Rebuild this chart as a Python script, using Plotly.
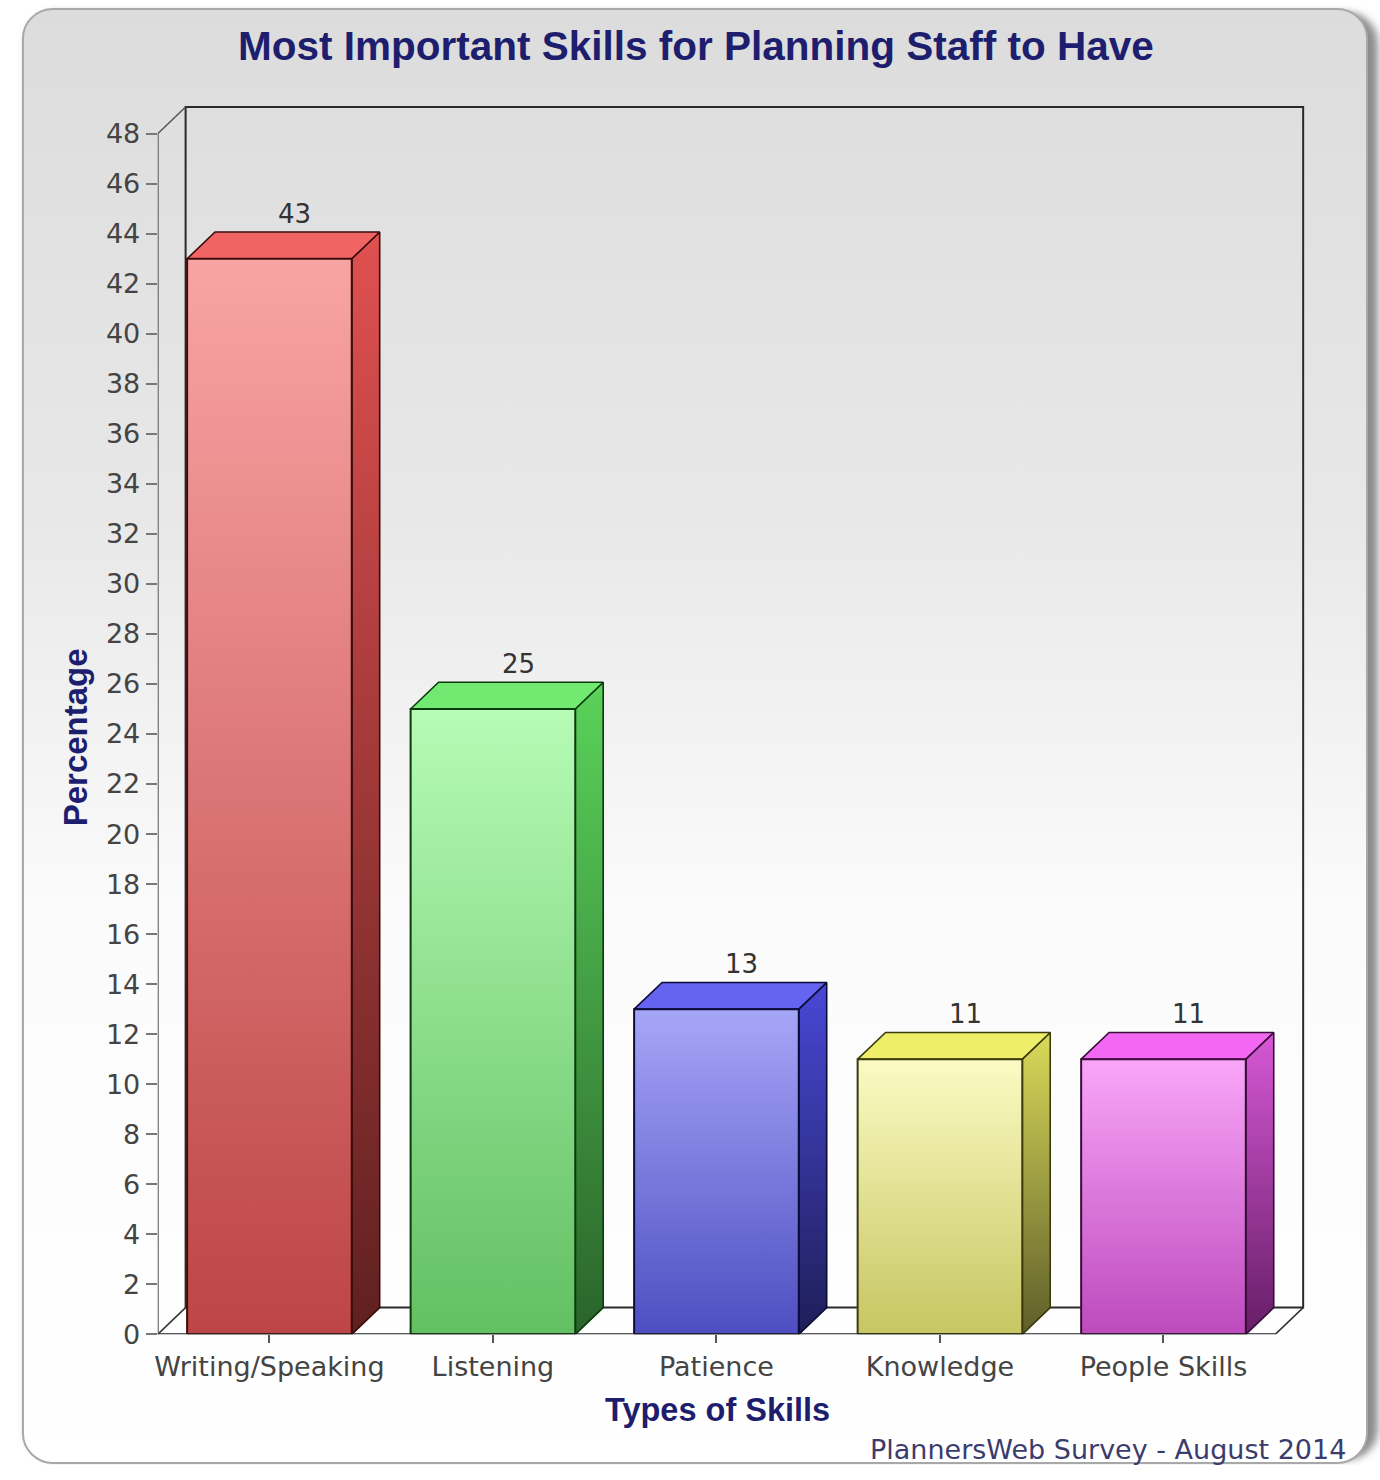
import base64
import plotly.graph_objects as go

# ---------------- data ----------------
categories = ["Writing/Speaking", "Listening", "Patience", "Knowledge", "People Skills"]
values = [43, 25, 13, 11, 11]
y_ticks = list(range(0, 49, 2))

front_top = ["#f9a4a4", "#b6fbb6", "#a6a6f8", "#fbfbc4", "#f9a6f9"]
front_bot = ["#bd4545", "#62c062", "#4e4ec2", "#c6c662", "#bd4abd"]
side_top = ["#e05050", "#5ad25a", "#4848d6", "#dada5a", "#d658d6"]
side_bot = ["#602020", "#2a642a", "#1e1e58", "#5e5e2a", "#661e66"]
top_face = ["#f06464", "#72ea72", "#6464f0", "#eeee68", "#f268f2"]
edge_col = ["#3a0c0c", "#0c3a0c", "#0c0c3a", "#3a3a0c", "#3a0c3a"]

# ---------------- geometry ----------------
W, H = 1380, 1480
PX_CAT = 224.0          # pixels per category
PX_UNIT = 25.27         # pixels per percentage point
X0_PX, Y0_PX = 155.0, 1348.0
XR = [-0.5, 4.7]
YR = [0, 50]
DX = 28 / PX_CAT        # depth offset (categories)
DY = 27 / PX_UNIT       # depth offset (value units)
HW = 82.5 / PX_CAT      # half bar width
YMAX = 48

xd = [X0_PX / W, (X0_PX + (XR[1] - XR[0]) * PX_CAT) / W]
yd = [(H - Y0_PX) / H, (H - (Y0_PX - (YR[1] - YR[0]) * PX_UNIT)) / H]

fig = go.Figure()

def face(xs, ys, grad, edge, width=1.6):
    kw = dict(x=xs + [xs[0]], y=ys + [ys[0]], mode="lines", fill="toself",
              line=dict(color=edge, width=width), hoverinfo="skip", showlegend=False)
    if isinstance(grad, tuple):
        kw["fillgradient"] = dict(type="vertical", colorscale=[[0, grad[0]], [1, grad[1]]])
    else:
        kw["fillcolor"] = grad
    fig.add_trace(go.Scatter(**kw))

for i, v in enumerate(values):
    l, r = i - HW, i + HW
    face([r, r + DX, r + DX, r], [0, DY, v + DY, v], (side_bot[i], side_top[i]), edge_col[i])
    face([l, r, r + DX, l + DX], [v, v, v + DY, v + DY], top_face[i], edge_col[i])
    face([l, r, r, l], [0, 0, v, v], (front_bot[i], front_top[i]), edge_col[i], 2)

# ---------------- 3D box frame ----------------
xl, xr = XR[0], len(categories) - 0.5
shapes = [
    dict(type="path", path=f"M {xl+DX},{DY} L {xl+DX},{YMAX+DY} L {xr+DX},{YMAX+DY} L {xr+DX},{DY} Z",
         line=dict(color="#2a2a2a", width=2), layer="below"),
    dict(type="line", x0=xl, y0=YMAX, x1=xl + DX, y1=YMAX + DY, line=dict(color="#555", width=1.5), layer="below"),
    dict(type="line", x0=xl, y0=0, x1=xl + DX, y1=DY, line=dict(color="#333", width=1.5), layer="below"),
    dict(type="line", x0=xr, y0=0, x1=xr + DX, y1=DY, line=dict(color="#333", width=1.5), layer="below"),
    dict(type="line", x0=xl, y0=0, x1=xl, y1=YMAX, line=dict(color="#777", width=2.5), layer="below"),
    dict(type="line", x0=xl, y0=0, x1=xr, y1=0, line=dict(color="#222", width=2), layer="above"),
]

# ---------------- value labels & texts ----------------
annotations = []
for i, v in enumerate(values):
    annotations.append(dict(x=i + DX * 0.9, y=v + DY, text=str(v), showarrow=False,
                            yanchor="bottom", yshift=1,
                            font=dict(family="DejaVu Sans", size=26, color="#333333")))

navy = "#1e1e6e"
annotations += [
    dict(xref="paper", yref="paper", x=695 / W, y=1 - 46 / H, text="<b>Most Important Skills for Planning Staff to Have</b>",
         showarrow=False, xanchor="center", yanchor="middle",
         font=dict(family="Liberation Sans", size=40.5, color=navy)),
    dict(xref="paper", yref="paper", x=73 / W, y=1 - 745 / H, text="<b>Percentage</b>", textangle=-90,
         showarrow=False, xanchor="center", yanchor="middle",
         font=dict(family="Liberation Sans", size=33, color=navy)),
    dict(xref="paper", yref="paper", x=716 / W, y=1 - 1424 / H, text="<b>Types of Skills</b>",
         showarrow=False, xanchor="center", yanchor="middle",
         font=dict(family="Liberation Sans", size=32.5, color=navy)),
    dict(xref="paper", yref="paper", x=1348 / W, y=1 - 1464 / H, text="PlannersWeb Survey - August 2014",
         showarrow=False, xanchor="right", yanchor="middle",
         font=dict(family="DejaVu Sans", size=27, color="#3c3c6c")),
]

# ---------------- background panel (gradient rounded frame) ----------------
svg = f"""<svg xmlns='http://www.w3.org/2000/svg' width='{W}' height='{H}' viewBox='0 0 {W} {H}'>
<defs>
<linearGradient id='g' x1='0' y1='0' x2='0' y2='1'>
<stop offset='0' stop-color='#dcdcdc'/>
<stop offset='0.35' stop-color='#e8e8e8'/>
<stop offset='0.62' stop-color='#fbfbfb'/>
<stop offset='1' stop-color='#ffffff'/>
</linearGradient>
<filter id='b' x='-5%' y='-5%' width='110%' height='110%'><feGaussianBlur stdDeviation='4'/></filter>
</defs>
<rect x='24' y='12' width='1354' height='1463' rx='32' fill='#8a8a8a' filter='url(#b)'/>
<rect x='20' y='9' width='1347' height='1469' rx='30' fill='url(#g)' stroke='#a8a8a8' stroke-width='2'/>
</svg>"""
uri = "data:image/svg+xml;base64," + base64.b64encode(svg.encode()).decode()

fig.update_layout(
    width=W, height=H, autosize=False,
    margin=dict(l=0, r=0, t=0, b=0),
    paper_bgcolor="white",
    plot_bgcolor="rgba(0,0,0,0)",
    showlegend=False,
    shapes=shapes,
    annotations=annotations,
    images=[dict(source=uri, xref="paper", yref="paper", x=0, y=1, sizex=1, sizey=1,
                 xanchor="left", yanchor="top", sizing="stretch", layer="below")],
    xaxis=dict(domain=xd, range=XR, showgrid=False, zeroline=False, showline=False,
               tickvals=list(range(len(categories))), ticktext=categories,
               ticks="outside", ticklen=8, tickwidth=2, tickcolor="#555",
               tickfont=dict(family="DejaVu Sans", size=27, color="#444444"), fixedrange=True),
    yaxis=dict(domain=yd, range=YR, showgrid=False, zeroline=False, showline=False,
               tickvals=y_ticks, ticks="outside", ticklen=11, tickwidth=2, tickcolor="#777",
               tickfont=dict(family="DejaVu Sans", size=27, color="#444444"), fixedrange=True),
)

fig.write_html("out.html", config={"responsive": False, "displayModeBar": False})
